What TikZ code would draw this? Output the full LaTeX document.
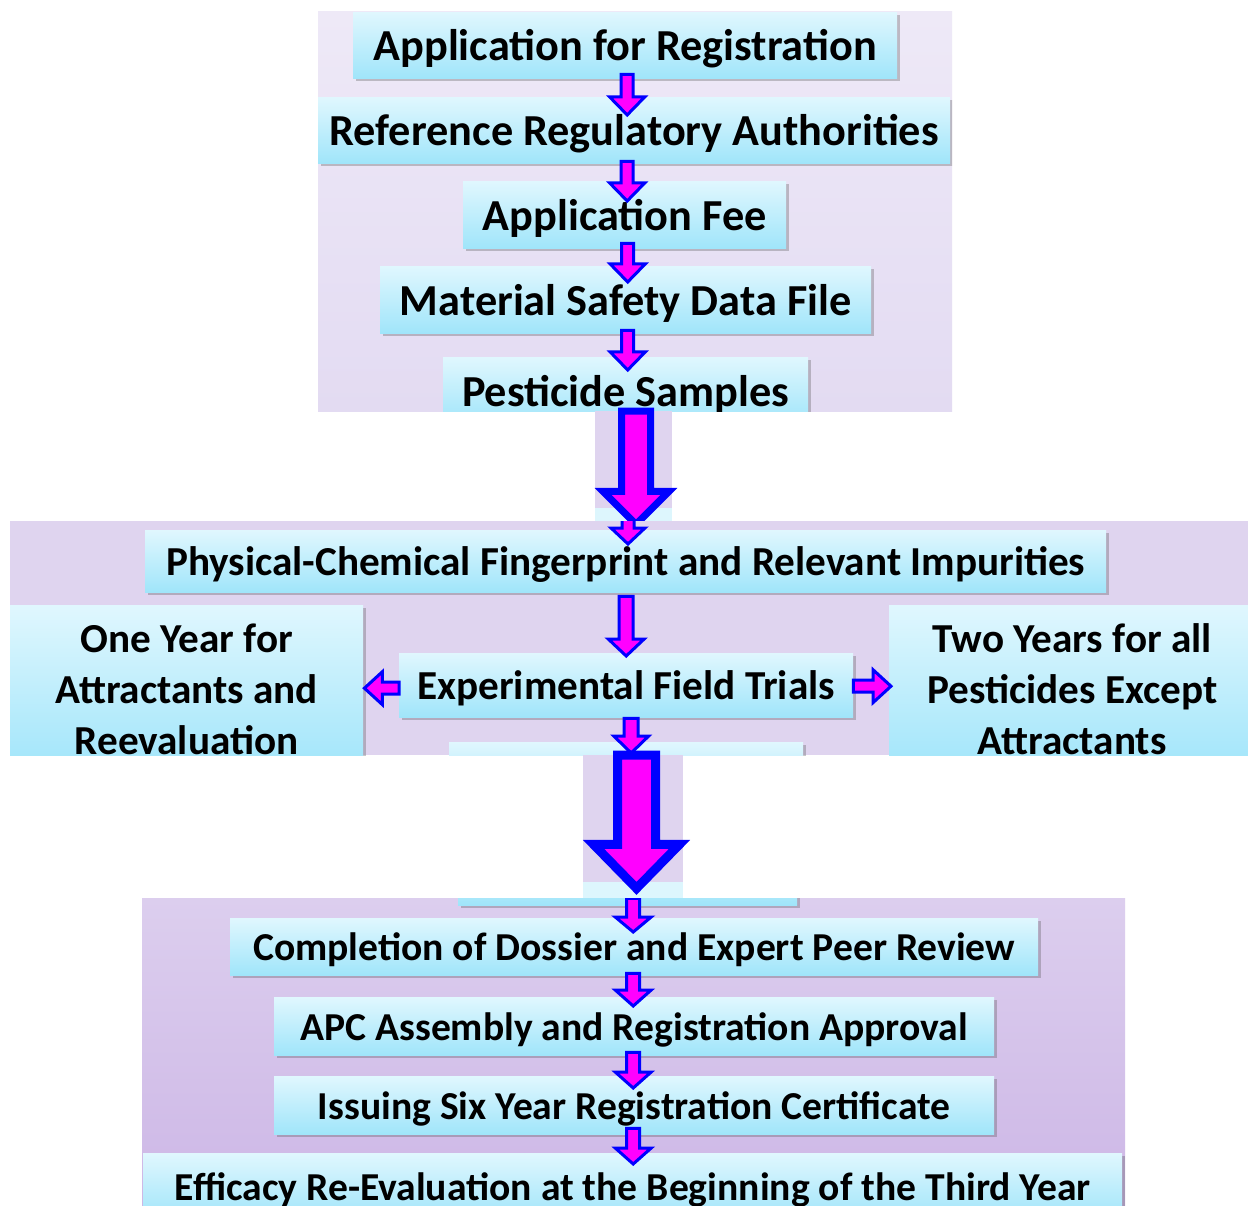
\documentclass[tikz,border=0pt]{standalone}
\usepackage{fontspec}
\setmainfont{Carlito}
\usetikzlibrary{calc,shadows}
\definecolor{cyT}{HTML}{E0F7FE}
\definecolor{cyB}{HTML}{A0E5FA}
\definecolor{cyL}{HTML}{DDF6FD}
\definecolor{lavA}{HTML}{EEE9F7}
\definecolor{lavB}{HTML}{E3DBF2}
\definecolor{lavC}{HTML}{DFD4EF}
\definecolor{lavD}{HTML}{DCCEEE}
\definecolor{lavE}{HTML}{CDB7E6}
\definecolor{arrB}{HTML}{0000FF}
\definecolor{arrM}{HTML}{FF00FF}
\tikzset{
  box/.style={rectangle, anchor=north west, inner sep=0pt, top color=cyT, bottom color=cyB,
    align=center, drop shadow={shadow xshift=3pt, shadow yshift=-3pt, opacity=0.3, fill=black!70}},
  one/.style={text depth=0pt},
  fA/.style={font=\bfseries\fontsize{44.3}{51}\selectfont},
  fB/.style={font=\bfseries\fontsize{41.2}{51}\selectfont},
  fC/.style={font=\bfseries\fontsize{39.6}{47}\selectfont},
  arr/.style={draw=arrB, fill=arrM, line width=3pt, line join=miter},
  bigarr/.style={draw=arrB, fill=arrM, line width=7pt, line join=miter},
}
% vertical block arrow: start, tip, shaft half, head half, head length, style
\newcommand\vblock[6]{\path let \p1=#1, \p2=#2 in [#6]
  (\x1-#3pt,\y1) -- (\x1-#3pt,\y2+#5pt) -- (\x1-#4pt,\y2+#5pt) -- (\x1,\y2) --
  (\x1+#4pt,\y2+#5pt) -- (\x1+#3pt,\y2+#5pt) -- (\x1+#3pt,\y1) -- cycle;}
% horizontal block arrow: start, tip, shaft half, head half, head length (signed)
\newcommand\hblock[5]{\path let \p1=#1, \p2=#2 in [arr]
  (\x1,\y1-#3pt) -- (\x2+#5pt,\y1-#3pt) -- (\x2+#5pt,\y1-#4pt) -- (\x2,\y1) --
  (\x2+#5pt,\y1+#4pt) -- (\x2+#5pt,\y1+#3pt) -- (\x1,\y1+#3pt) -- cycle;}
\begin{document}
\begin{tikzpicture}[x=1pt,y=-1pt]
\fill[white] (0,0) rectangle (1248,1206);
\useasboundingbox (0,0) rectangle (1248,1206);

% ---------- panel 1 ----------
\begin{scope}
\clip (318,12) rectangle (952,411);
\shade[top color=lavA, bottom color=lavB] (318,12) rectangle (952,411);
\node[box,one,fA,minimum width=544pt,minimum height=66pt] (p1a) at (353,12) {Application for Registration};
\node[box,one,fA,minimum width=632pt,minimum height=66pt] (p1b) at (318,97) {Reference Regulatory Authorities};
\node[box,one,fA,minimum width=323pt,minimum height=67pt] (p1c) at (463,181) {Application Fee};
\node[box,one,fA,minimum width=491pt,minimum height=67pt] (p1d) at (380,266) {Material Safety Data File};
\node[box,one,fA,minimum width=365pt,minimum height=67pt] (p1e) at (443,357) {Pesticide Samples};
\vblock{($(p1a.south)+(2,-4)$)}{($(p1b.north)+(0,18)$)}{6}{17.5}{18}{arr}
\vblock{($(p1b.south)+(-7,-2)$)}{($(p1c.north)+(0,20)$)}{6}{17.5}{18}{arr}
\vblock{($(p1c.south)+(3,-5)$)}{($(p1d.north)+(0,16)$)}{6}{17.5}{18}{arr}
\vblock{($(p1d.south)+(2,-3)$)}{($(p1e.north)+(0,13)$)}{6}{17.5}{18}{arr}
\end{scope}

% ---------- big arrow 1 ----------
\fill[lavC] (595,411) rectangle (672,508);
\fill[cyL] (595,508) rectangle (672,521);
\coordinate (b1s) at (636,411);
\vblock{(b1s)}{($(p1e.south)+(10.5,100)$)}{14.5}{33}{33}{bigarr}

% ---------- panel 2 ----------
\begin{scope}
\clip (10,521) rectangle (1248,755);
\fill[lavC] (10,521) rectangle (1248,755);
\node[box,one,fB,minimum width=961pt,minimum height=62pt] (p2a) at (145,530) {Physical-Chemical Fingerprint and Relevant Impurities};
\node[box,fB,minimum width=353pt,minimum height=168pt] (p2b) at (10,605) {One Year for\\Attractants and\\Reevaluation};
\node[box,one,fB,minimum width=454pt,minimum height=64pt] (p2c) at (399,653) {Experimental Field Trials};
\node[box,fB,minimum width=366pt,minimum height=168pt] (p2d) at (889,605) {Two Years for all\\Pesticides Except\\Attractants};
\node[box,minimum width=354pt,minimum height=60pt] (p2e) at (449,742) {};
\coordinate (p2top) at (628,519);
\vblock{(p2top)}{($(p2a.north)+(2.5,14)$)}{6}{17}{16}{arr}
\vblock{($(p2a.south)+(0.5,4)$)}{($(p2c.north)+(0,3)$)}{7}{18}{17}{arr}
\vblock{($(p2c.south)+(5,1)$)}{($(p2e.north)+(0,11)$)}{7}{17.5}{17}{arr}
\hblock{($(p2c.west)+(0,3)$)}{($(p2b.east)+(1,0)$)}{6}{16.5}{18}
\hblock{($(p2c.east)+(0,1)$)}{($(p2d.west)+(2,0)$)}{6}{16.5}{-18}
\end{scope}

% ---------- big arrow 2 ----------
\fill[lavC] (583,755) rectangle (683,882);
\fill[cyL] (583,882) rectangle (683,898);
\coordinate (b2s) at (636.5,755);
\vblock{(b2s)}{($(p2e.south)+(10.5,86)$)}{19}{43}{44}{bigarr,line width=9pt}

% ---------- panel 3 ----------
\begin{scope}
\clip (142,898) rectangle (1125,1206);
\shade[top color=lavD, bottom color=lavE] (142,898) rectangle (1125,1206);
\node[box,minimum width=339pt,minimum height=60pt] (p3z) at (458,845) {};
\node[box,one,fC,minimum width=808pt,minimum height=57pt] (p3a) at (230,918) {Completion of Dossier and Expert Peer Review};
\node[box,one,fC,minimum width=720pt,minimum height=58pt] (p3b) at (274,997) {APC Assembly and Registration Approval};
\node[box,one,fC,minimum width=720pt,minimum height=58pt] (p3c) at (274,1076) {Issuing Six Year Registration Certificate};
\node[box,one,fC,minimum width=979pt,minimum height=66pt] (p3d) at (143,1153) {Efficacy Re-Evaluation at the Beginning of the Third Year};
\vblock{($(p3z.south)+(5.5,-7)$)}{($(p3a.north)+(0,14)$)}{6.5}{18}{15}{arr}
\vblock{($(p3a.south)+(-1,-2)$)}{($(p3b.north)+(0,9)$)}{6.5}{18}{16}{arr}
\vblock{($(p3b.south)+(-1,-3)$)}{($(p3c.north)+(0,12)$)}{6.5}{18}{16}{arr}
\vblock{($(p3c.south)+(-1,-6)$)}{($(p3d.north)+(0,11)$)}{6.5}{18}{16}{arr}
\end{scope}
\end{tikzpicture}
\end{document}
